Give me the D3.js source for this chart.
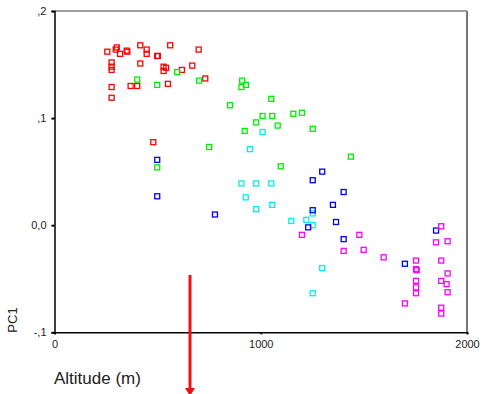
<!DOCTYPE html>
<html><head><meta charset="utf-8">
<script src="https://cdn.jsdelivr.net/npm/d3@7"></script>
<style>body{margin:0;background:#fff}svg{display:block}</style>
</head><body>
<script>
// Data: [altitude (m), PC1]
const redPts = [[256,0.162],[297,0.164],[302,0.166],[318,0.160],[350,0.163],[353,0.162],[416,0.168],[447,0.164],[447,0.160],[498,0.158],[501,0.158],[561,0.168],[699,0.164],[277,0.152],[277,0.148],[277,0.145],[416,0.151],[529,0.148],[541,0.147],[529,0.144],[618,0.145],[668,0.149],[731,0.137],[550,0.132],[369,0.130],[401,0.130],[277,0.129],[277,0.119],[479,0.0775]];
const greenPts = [[401,0.136],[498,0.131],[595,0.143],[701,0.135],[910,0.135],[928,0.131],[906,0.129],[1051,0.118],[851,0.112],[1009,0.102],[1056,0.102],[1158,0.104],[1200,0.105],[978,0.096],[1082,0.093],[922,0.088],[1252,0.090],[750,0.073],[1437,0.064],[1097,0.055],[498,0.054]];
const cyanPts = [[1009,0.087],[948,0.071],[906,0.039],[978,0.039],[1051,0.039],[927,0.026],[1056,0.019],[978,0.015],[1252,0.011],[1148,0.004],[1221,0.005],[1252,0.000],[1298,-0.040],[1252,-0.0635]];
const bluePts = [[498,0.061],[498,0.027],[778,0.010],[1298,0.050],[1252,0.042],[1402,0.031],[1350,0.019],[1252,0.014],[1365,0.003],[1230,-0.002],[1402,-0.013],[1850,-0.005],[1699,-0.036]];
const magentaPts = [[1200,-0.009],[1478,-0.009],[1402,-0.024],[1499,-0.023],[1596,-0.030],[1875,-0.001],[1850,-0.016],[1906,-0.015],[1753,-0.033],[1753,-0.041],[1756,-0.042],[1875,-0.033],[1906,-0.045],[1753,-0.052],[1875,-0.052],[1901,-0.055],[1753,-0.058],[1753,-0.0635],[1906,-0.0626],[1699,-0.073],[1875,-0.077],[1875,-0.0825]];
const xTicks = [0, 1000, 2000];
const xTickLabels = ["0", "1000", "2000"];
const yTicks = [0.2, 0.1, 0.0, -0.1];
const yTickLabels = [",2", ",1", "0,0", "-,1"];
const arrowAlt = 657;

const W = 485, H = 394;
const svg = d3.select("body").append("svg").attr("width", W).attr("height", H);
const x = d3.scaleLinear().domain([0, 2000]).range([54.5, 467]);
const y = d3.scaleLinear().domain([-0.1, 0.2]).range([332.3, 11]);
const font = "'Liberation Sans', Arial, sans-serif";

// frame top & right
svg.append("line").attr("x1", x(0)).attr("x2", x(2000)).attr("y1", y(0.2)).attr("y2", y(0.2))
  .attr("stroke", "#444").attr("stroke-width", 1.2);
svg.append("line").attr("x1", x(2000)).attr("x2", x(2000)).attr("y1", y(0.2)).attr("y2", y(-0.1))
  .attr("stroke", "#777").attr("stroke-width", 2);

// axes
const yAxis = d3.axisLeft(y).tickValues(yTicks).tickSize(3).tickPadding(5)
  .tickFormat((d, i) => yTickLabels[i]);
const gy = svg.append("g").attr("transform", `translate(${x(0)},0)`).call(yAxis);
const xAxis = d3.axisBottom(x).tickValues(xTicks).tickSize(2).tickPadding(6)
  .tickFormat((d, i) => xTickLabels[i]);
const gx = svg.append("g").attr("transform", `translate(0,${y(-0.1)})`).call(xAxis);
[gx, gy].forEach(g => {
  g.select(".domain").attr("stroke", "#000").attr("stroke-width", 1.5);
  g.selectAll(".tick line").attr("stroke", "#000").attr("stroke-width", 2);
  g.selectAll(".tick text").attr("font-family", font).attr("font-size", 11).attr("fill", "#222");
});

// points
const series = [
  {pts: redPts, c: "#ff0000"},
  {pts: greenPts, c: "#00ee00"},
  {pts: cyanPts, c: "#00eeee"},
  {pts: bluePts, c: "#0000ff"},
  {pts: magentaPts, c: "#ff00ff"}
];
const s = 5;
series.forEach(se => {
  svg.append("g").selectAll("rect").data(se.pts).join("rect")
    .attr("x", d => x(d[0]) - s / 2).attr("y", d => y(d[1]) - s / 2)
    .attr("width", s).attr("height", s)
    .attr("fill", "none").attr("stroke", se.c).attr("stroke-width", 1.3);
});

// axis titles
svg.append("text").attr("transform", "translate(17,320) rotate(-90)")
  .attr("text-anchor", "middle").attr("font-family", font).attr("font-size", 13)
  .attr("fill", "#222").text("PC1");
svg.append("text").attr("x", 54).attr("y", 384)
  .attr("font-family", font).attr("font-size", 17).attr("fill", "#222").text("Altitude (m)");

// arrow annotation
const ax = x(arrowAlt);
svg.append("line").attr("x1", ax).attr("x2", ax).attr("y1", 275).attr("y2", 389)
  .attr("stroke", "#ee1111").attr("stroke-width", 3);
svg.append("path").attr("d", `M${ax - 5},388 L${ax + 5},388 L${ax},396 Z`).attr("fill", "#ee1111");
</script>
</body></html>
